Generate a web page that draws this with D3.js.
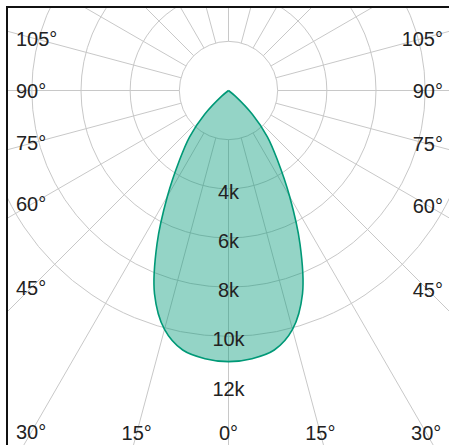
<!DOCTYPE html>
<html>
<head>
<meta charset="utf-8">
<script src="https://cdn.jsdelivr.net/npm/d3@7"></script>
<style>
  body { margin: 0; background: #fff; }
  svg { display: block; font-family: "Liberation Sans", Arial, sans-serif; }
</style>
</head>
<body>
<svg width="449" height="445"></svg>
<script>
// polar angle (0 = straight down), candela values, mirrored on both sides
var angles = [0, 5, 10, 15, 20, 25, 30, 35, 40, 45, 50, 55, 60, 65, 70, 75, 80, 85, 90];
var intensity = [11030, 10950, 10720, 10060, 8800, 6880, 4970, 3490, 2460, 1370, 360, 0, 0, 0, 0, 0, 0, 0, 0];

var gridValues = [2000, 4000, 6000, 8000, 10000];
var radialTicks = [4000, 6000, 8000, 10000, 12000];
var angleTicks = [0, 15, 30, 45, 60, 75, 90, 105];

var svg = d3.select("svg"),
	W = +svg.attr("width"),
	H = +svg.attr("height"),
	box = { left: 7, top: 7 },
	cx = 228.5,
	cy = 90.5;

var r = d3.scaleLinear().domain([0, 12000]).range([0, 295]);

// signed angle in degrees (positive = right side) -> d3 radial angle
function rad(a) {
	return Math.PI - a * Math.PI / 180;
}

svg.append("defs").append("clipPath")
	.attr("id", "clip")
	.append("rect")
	.attr("x", box.left)
	.attr("y", box.top)
	.attr("width", W - box.left + 10)
	.attr("height", H - box.top + 10);

var plot = svg.append("g").attr("clip-path", "url(#clip)");
var g = plot.append("g").attr("transform", "translate(" + cx + "," + cy + ")");

// grid circles
g.selectAll(".ring")
	.data(gridValues)
	.enter().append("circle")
	.attr("class", "ring")
	.attr("r", function(d) { return r(d); })
	.attr("fill", "none")
	.attr("stroke", "#c8c8c8")
	.attr("stroke-width", 1);

// spokes every 15 degrees, starting at the inner ring
var spokes = d3.range(0, 360, 15);
g.selectAll(".spoke")
	.data(spokes)
	.enter().append("line")
	.attr("class", "spoke")
	.attr("x1", function(d) { return r(2000) * Math.sin(rad(d)); })
	.attr("y1", function(d) { return -r(2000) * Math.cos(rad(d)); })
	.attr("x2", function(d) { return r(24000) * Math.sin(rad(d)); })
	.attr("y2", function(d) { return -r(24000) * Math.cos(rad(d)); })
	.attr("stroke", "#c8c8c8")
	.attr("stroke-width", 1);

// distribution curve, mirrored
var pts = [];
for (var i = angles.length - 1; i > 0; i--) pts.push({ a: -angles[i], v: intensity[i] });
for (var i = 0; i < angles.length; i++) pts.push({ a: angles[i], v: intensity[i] });

var line = d3.lineRadial()
	.angle(function(d) { return rad(d.a); })
	.radius(function(d) { return r(d.v); })
	.curve(d3.curveCatmullRomClosed.alpha(0.5));

g.append("path")
	.datum(pts)
	.attr("d", line)
	.attr("fill", "rgb(0,153,119)")
	.attr("fill-opacity", 0.42)
	.attr("stroke", "rgb(0,153,119)")
	.attr("stroke-width", 1.6);

// radial labels
g.selectAll(".rlabel")
	.data(radialTicks)
	.enter().append("text")
	.attr("class", "rlabel")
	.attr("x", 0)
	.attr("y", function(d) { return r(d) + 10; })
	.attr("text-anchor", "middle")
	.attr("font-size", 20)
	.attr("fill", "#222")
	.text(function(d) { return (d / 1000) + "k"; });

// angle labels, pushed out along each spoke until they touch the frame
var labels = [];
angleTicks.forEach(function(a) {
	labels.push({ a: -a, t: a + "°" });
	if (a > 0) labels.push({ a: a, t: a + "°" });
});

var lab = svg.selectAll(".alabel")
	.data(labels)
	.enter().append("text")
	.attr("class", "alabel")
	.attr("font-size", 20)
	.attr("fill", "#222")
	.attr("text-anchor", "middle")
	.attr("dy", "0.35em")
	.text(function(d) { return d.t; });

lab.each(function(d) {
	var w = this.getComputedTextLength();
	var sx = Math.sin(d.a * Math.PI / 180),
		sy = Math.cos(d.a * Math.PI / 180);
	var t = 1e9;
	if (sx < -1e-6) t = Math.min(t, (cx - (16 + w / 2)) / -sx);
	if (sx > 1e-6) t = Math.min(t, ((443 - w / 2) - cx) / sx);
	if (sy > 1e-6) t = Math.min(t, (433 - cy) / sy);
	d3.select(this)
		.attr("x", cx + t * sx)
		.attr("y", cy + t * sy);
});

// frame: left and top edges
svg.append("line")
	.attr("x1", box.left).attr("y1", box.top - 1)
	.attr("x2", box.left).attr("y2", H)
	.attr("stroke", "#111").attr("stroke-width", 2);
svg.append("line")
	.attr("x1", box.left - 1).attr("y1", box.top)
	.attr("x2", W).attr("y2", box.top)
	.attr("stroke", "#111").attr("stroke-width", 2);
</script>
</body>
</html>
